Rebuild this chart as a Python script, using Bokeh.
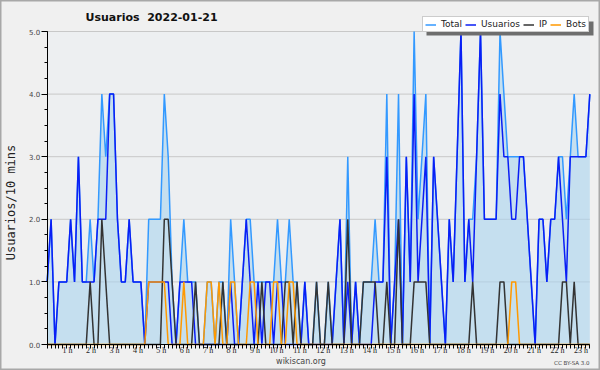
import math
from bokeh.plotting import figure
from bokeh.models import (ColumnDataSource, Legend, LegendItem, FixedTicker, LinearAxis,
                          PrintfTickFormatter, Label, LabelSet, Range1d, BoxAnnotation)
from bokeh.embed import file_html
from bokeh.resources import INLINE

hours = list(range(1, 24))
hour_labels = [f"{h} h" for h in hours]
y_ticks = [0, 1, 2, 3, 4, 5]
y_minor = [0, 0.25, 0.5, 0.75, 1, 1.25, 1.5, 1.75, 2, 2.25, 2.5,
           2.75, 3, 3.25, 3.5, 3.75, 4, 4.25, 4.5, 4.75, 5]

usuarios = [1,2,0,1,1,1,2,1,3,1, 1,1,1,2,2,2,4,4,2,1,
            1,2,1,1,1,0,1,1,1,1, 1,1,0,0,1,1,1,1,0,0,
            0,0,0,0,0,0,0,1,0,0, 1,2,1,0,1,0,1,1,0,1,
            1,0,0,0,0,0,1,0,0,0, 0,0,0,0,1,2,0,1,0,1,
            0,0,0,0,1,1,1,3,0,1, 2,0,3,1,4,1,2,3,0,3,
            2,1,0,2,1,3,5,1,2,1, 3,5,2,2,2,2,4,3,3,2,
            2,3,3,2,1,0,2,2,1,2, 2,3,2,1,3,3,3,3,3,4]
ip = [0,0,0,0,0,0,0,0,0,0, 0,1,0,0,2,1,0,0,0,0,
      0,0,0,0,0,0,0,0,0,0, 2,2,1,0,0,0,0,0,1,0,
      0,0,0,0,0,1,0,0,0,0, 0,0,0,0,0,1,0,0,0,0,
      0,1,1,0,1,0,0,0,0,1, 0,0,1,0,0,0,0,2,0,0,
      0,1,1,1,1,0,0,1,0,0, 2,0,0,0,1,1,1,1,0,0,
      0,0,0,0,0,0,0,0,0,1, 0,0,0,0,0,0,1,1,0,0,
      0,0,0,0,0,0,0,0,0,0, 0,0,1,1,0,1,0,0,0,0]
bots = [0,0,0,0,0,0,0,0,0,0, 0,0,0,0,0,0,0,0,0,0,
        0,0,0,0,0,0,1,1,1,1, 1,0,0,0,0,1,0,0,0,0,
        0,1,1,0,1,0,0,1,1,0, 0,0,1,1,0,0,0,0,1,1,
        0,0,1,1,0,0,0,0,0,0, 0,0,0,0,0,0,0,0,0,0,
        0,0,0,0,0,0,0,0,0,0, 0,0,0,0,0,0,0,0,0,0,
        0,0,0,0,0,0,0,0,0,0, 0,0,0,0,0,0,0,0,0,1,
        1,0,0,0,0,0,0,0,0,0, 0,0,0,0,0,0,0,0,0,0]
total = [1,2,0,1,1,1,2,1,3,1, 1,2,1,2,4,3,4,4,2,1,
         1,2,1,1,1,0,2,2,2,2, 4,3,1,0,1,2,1,1,1,0,
         0,1,1,0,1,1,0,2,1,0, 1,2,2,1,1,1,1,1,1,2,
         1,1,2,1,1,0,1,0,0,1, 0,0,1,0,1,2,0,3,0,1,
         0,1,1,1,2,1,1,4,0,1, 4,0,3,1,5,2,3,4,0,3,
         2,1,0,2,1,3,5,1,2,2, 3,5,2,2,2,2,5,4,3,3,
         3,3,3,2,1,0,2,2,1,2, 2,3,3,2,3,4,3,3,3,4]

n = len(total)
idx = list(range(n))
src = ColumnDataSource(dict(x=idx, total=total, usuarios=usuarios, ip=ip, bots=bots))

# canvas / plot-area geometry (pixels)
W, H = 600, 370
PL, PR, PT, PB = 46.7, 589.3, 31.0, 344.0
sx = (PR - PL) / (n - 1)
sy = (PB - PT) / 5.0
x_range = Range1d(-PL / sx, (W - PL) / sx)
y_range = Range1d(-(H - PB) / sy, 5 + PT / sy)

p = figure(width=W, height=H, output_backend="svg", toolbar_location=None,
           x_range=x_range, y_range=y_range,
           x_axis_location=None, y_axis_location=None,
           min_border_left=0, min_border_right=0, min_border_top=0, min_border_bottom=0)
p.grid.visible = False
p.background_fill_color = "#f0f0f0"
p.border_fill_color = "#f0f0f0"
p.outline_line_color = "#a8a8a8"
p.outline_line_width = 2

# plot area background and grid
p.quad(left=0, right=n - 1, bottom=0, top=5, fill_color="#edeff1", line_color=None, level="image")
p.segment(x0=0, x1=n - 1, y0=y_ticks[1:], y1=y_ticks[1:], line_color="#c8c8c8",
          line_width=1, level="underlay")

p.varea(x="x", y1=0, y2="total", source=src, fill_color="#aad3ef", fill_alpha=0.6)
lw = 1.5
r_total = p.line("x", "total", source=src, line_color="#3399ff", line_width=lw)
r_user = p.line("x", "usuarios", source=src, line_color="#0a1ef5", line_width=lw)
r_ip = p.line("x", "ip", source=src, line_color="#333333", line_width=lw)
r_bots = p.line("x", "bots", source=src, line_color="#ff9900", line_width=lw)

# axes fixed at the data origin
xaxis = LinearAxis(fixed_location=0, bounds=(0, n - 1),
                   ticker=FixedTicker(ticks=[], minor_ticks=idx))
xaxis.minor_tick_out = 4
xaxis.minor_tick_in = 0
xaxis.major_tick_out = 4
xaxis.major_tick_in = 0
p.add_layout(xaxis, "below")

yaxis = LinearAxis(fixed_location=0, bounds=(0, 5),
                   ticker=FixedTicker(ticks=y_ticks, minor_ticks=y_minor),
                   formatter=PrintfTickFormatter(format="%.1f"))
yaxis.major_tick_out = 6
yaxis.major_tick_in = 0
yaxis.minor_tick_out = 3
yaxis.minor_tick_in = 0
yaxis.major_label_standoff = 1
yaxis.major_label_text_font = "DejaVu Sans"
yaxis.major_label_text_font_size = "7px"
yaxis.major_label_text_color = "#444444"
p.add_layout(yaxis, "left")
for ax in (xaxis, yaxis):
    ax.axis_line_color = "black"
    ax.major_tick_line_color = "black"
    ax.minor_tick_line_color = "black"

# hour labels, right aligned at the hour tick
lab_src = ColumnDataSource(dict(x=[6 * h for h in hours], y=[0] * len(hours), text=hour_labels))
p.add_layout(LabelSet(x="x", y="y", text="text", source=lab_src, text_align="right",
                      text_baseline="middle", x_offset=2, y_offset=-6,
                      text_font="DejaVu Sans", text_font_size="8px", text_color="#222222"))

# texts
p.add_layout(Label(x=85, y=H - 16.7, x_units="screen", y_units="screen",
                   text="Usuarios \u00a02022-01-21", text_baseline="middle",
                   text_font="DejaVu Sans", text_font_style="bold",
                   text_font_size="11px", text_color="#111111"))
p.add_layout(Label(x=10, y=H - 202, x_units="screen", y_units="screen",
                   text="Usuarios/10 mins", angle=math.pi / 2, text_align="center",
                   text_baseline="middle", text_font="DejaVu Sans Mono",
                   text_font_size="12px", text_color="#222222"))
p.add_layout(Label(x=300.5, y=H - 361, x_units="screen", y_units="screen",
                   text="wikiscan.org", text_align="center", text_baseline="middle",
                   text_font="DejaVu Sans", text_font_size="8px", text_color="#444444"))
p.add_layout(Label(x=589, y=H - 362, x_units="screen", y_units="screen",
                   text="CC BY-SA 3.0", text_align="right", text_baseline="middle",
                   text_font="DejaVu Sans", text_font_size="5.5px", text_color="#444444"))

# legend shadow + legend
p.add_layout(BoxAnnotation(left=426, right=593, bottom=H - 35, top=H - 21,
                           left_units="screen", right_units="screen",
                           bottom_units="screen", top_units="screen",
                           fill_color="#6e6e6e", fill_alpha=1, line_color=None))
legend = Legend(items=[LegendItem(label="Total", renderers=[r_total]),
                       LegendItem(label="Usuarios", renderers=[r_user]),
                       LegendItem(label="IP", renderers=[r_ip]),
                       LegendItem(label="Bots", renderers=[r_bots])],
                location=(422, H - 32), orientation="horizontal",
                label_text_font="DejaVu Sans", label_text_font_size="9px",
                label_text_color="#222222", glyph_width=11, glyph_height=9,
                label_height=9, label_width=0, label_standoff=5, spacing=3,
                padding=2, margin=0,
                border_line_color="#999999", border_line_width=1,
                background_fill_color="white", background_fill_alpha=1)
p.add_layout(legend)

open("out.html", "w").write(file_html(p, INLINE))
